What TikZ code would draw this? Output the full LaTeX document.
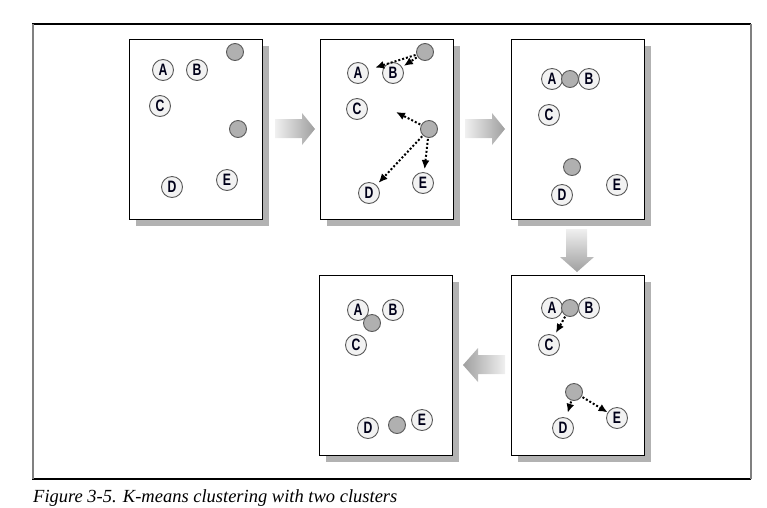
\documentclass[tikz,border=0pt]{standalone}
\usepackage{fontspec}
\newfontfamily\lblfont{Liberation Sans}
\newfontfamily\capfont{Liberation Serif}
\usetikzlibrary{arrows.meta}
\newcommand{\ltr}[1]{\scalebox{0.74}[1]{\lblfont\bfseries #1}}
\tikzset{
  pt/.style={circle, draw=black!65, fill=gray!10, line width=0.9pt, minimum size=21pt, inner sep=0pt, font=\fontsize{16.5}{16.5}\selectfont, text=black!90!blue},
  cen/.style={circle, draw=black!65, fill=gray!62, line width=0.9pt, minimum size=17pt, inner sep=0pt},
  panel/.style={draw=black, line width=1pt, fill=white},
  pshadow/.style={fill=gray!60, draw=none},
  mv/.style={line width=2pt, dotted, -{Latex[length=9pt,width=8pt]}, shorten >=2pt, shorten <=1pt},
  bigarrow/.style={draw=none}
}
\begin{document}
\begin{tikzpicture}[x=1pt,y=-1pt]
\useasboundingbox (0,0) rectangle (767,507);
% outer frame
\draw[black, line width=1.5pt] (32,24) -- (751,24);
\draw[black, line width=1.5pt] (32,479) -- (751,479);
\draw[gray, line width=1.5pt] (33,24) -- (33,479);
\draw[gray, line width=1.5pt] (751,24) -- (751,479);
% panels with shadows
\foreach \x/\y in {129/39, 320/39, 511/39, 319/275, 511/275}{
  \fill[pshadow] (\x+7,\y+7) rectangle (\x+140,\y+187);
  \draw[panel] (\x,\y) rectangle (\x+133,\y+180);
}
% big arrows
\shade[left color=gray!12, right color=gray!75] (275,119) -- (302,119) -- (302,113) -- (315,129) -- (302,145) -- (302,138) -- (275,138) -- cycle;
\shade[left color=gray!12, right color=gray!75] (465,119) -- (492,119) -- (492,113) -- (505,129) -- (492,145) -- (492,138) -- (465,138) -- cycle;
\shade[top color=gray!12, bottom color=gray!75] (566,229) -- (587,229) -- (587,257) -- (594,257) -- (577,272) -- (560,257) -- (566,257) -- cycle;
\shade[left color=gray!75, right color=gray!12] (505,355) -- (478,355) -- (478,348) -- (463,365) -- (478,382) -- (478,374) -- (505,374) -- cycle;
% panel 1
\node[pt] (a1) at (163,70) {\ltr{A}};
\node[pt] (b1) at (197,70) {\ltr{B}};
\node[pt] (c1) at (160,106) {\ltr{C}};
\node[pt] (d1) at (172,187) {\ltr{D}};
\node[pt] (e1) at (227,180) {\ltr{E}};
\node[cen] (g11) at (235,52) {};
\node[cen] (g12) at (238,129) {};
% panel 2
\node[pt] (a2) at (358,73) {\ltr{A}};
\node[pt] (b2) at (393,73) {\ltr{B}};
\node[pt] (c2) at (357,109) {\ltr{C}};
\node[pt] (d2) at (369,193) {\ltr{D}};
\node[pt] (e2) at (423,183) {\ltr{E}};
\node[cen] (g21) at (425,52) {};
\node[cen] (g22) at (429,129) {};
\coordinate (t2) at (396,112);
\draw[mv, shorten >=7pt] (g21) -- (a2);
\draw[mv] (g21) -- (b2);
\draw[mv, shorten >=0pt] (g22) -- (t2);
\draw[mv, shorten >=3pt] (g22) -- (d2);
\draw[mv, shorten >=3pt] (g22) -- (e2);
% panel 3
\node[pt] (a3) at (552,79) {\ltr{A}};
\node[pt] (b3) at (589,79) {\ltr{B}};
\node[cen] (g31) at (570,79) {};
\node[pt] (c3) at (549,115) {\ltr{C}};
\node[pt] (d3) at (562,195) {\ltr{D}};
\node[pt] (e3) at (617,185) {\ltr{E}};
\node[cen] (g32) at (572,167) {};
% panel 5 (bottom right)
\node[pt] (a5) at (552,308) {\ltr{A}};
\node[pt] (b5) at (589,308) {\ltr{B}};
\node[cen] (g51) at (570,308) {};
\node[pt] (c5) at (549,345) {\ltr{C}};
\node[pt] (d5) at (563,428) {\ltr{D}};
\node[pt] (e5) at (617,418) {\ltr{E}};
\node[cen] (g52) at (574,392) {};
\draw[mv, shorten >=3pt] (g51) -- (c5);
\draw[mv, shorten >=5pt] (g52) -- (d5);
\draw[mv, shorten >=0pt] (g52) -- (e5);
% panel 4 (bottom middle)
\node[pt] (a4) at (358,310) {\ltr{A}};
\node[pt] (b4) at (393,310) {\ltr{B}};
\node[cen] (g41) at (372,323) {};
\node[pt] (c4) at (356,345) {\ltr{C}};
\node[pt] (d4) at (368,428) {\ltr{D}};
\node[cen] (g42) at (397,425) {};
\node[pt] (e4) at (422,420) {\ltr{E}};
% caption
\node[anchor=base west, inner sep=0pt, font=\capfont\itshape\fontsize{18.5}{18.5}\selectfont] (cap) at (33,502) {Figure 3-5. K-means clustering with two clusters};
\end{tikzpicture}
\end{document}
